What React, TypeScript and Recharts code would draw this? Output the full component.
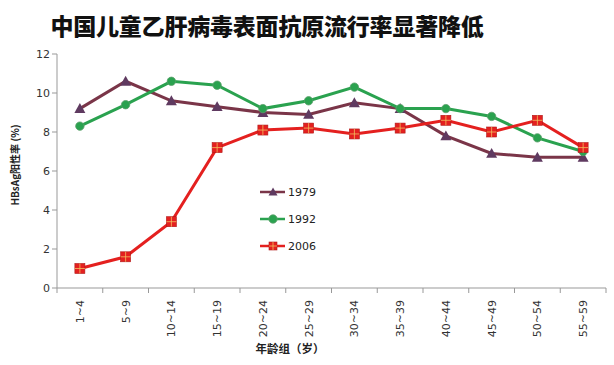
import React from 'react';
import { LineChart, Line, XAxis, YAxis } from 'recharts';

const ageGroups = ['1~4', '5~9', '10~14', '15~19', '20~24', '25~29', '30~34', '35~39', '40~44', '45~49', '50~54', '55~59'];
const rate1979 = [9.2, 10.6, 9.6, 9.3, 9.0, 8.9, 9.5, 9.2, 7.8, 6.9, 6.7, 6.7];
const rate1992 = [8.3, 9.4, 10.6, 10.4, 9.2, 9.6, 10.3, 9.2, 9.2, 8.8, 7.7, 7.0];
const rate2006 = [1.0, 1.6, 3.4, 7.2, 8.1, 8.2, 7.9, 8.2, 8.6, 8.0, 8.6, 7.2];
const yTicks = [0, 2, 4, 6, 8, 10, 12];

const data = ageGroups.map((g, i) => ({
  group: g,
  y1979: rate1979[i],
  y1992: rate1992[i],
  y2006: rate2006[i],
}));

const C1979 = '#7a3548';
const C1979M = '#5f3a60';
const C1992 = '#2aa24f';
const C2006 = '#e4201f';

const Triangle = ({ cx, cy, s = 5.5 }: any) => (
  <path d={`M${cx},${cy - s} L${cx + s},${cy + s * 0.8} L${cx - s},${cy + s * 0.8} Z`} fill={C1979M} />
);
const Circle = ({ cx, cy }: any) => <circle cx={cx} cy={cy} r={4.2} fill={C1992} stroke="#5a9e6a" strokeWidth={0.8} />;
const Square = ({ cx, cy, s = 5 }: any) => (
  <g>
    <rect x={cx - s} y={cy - s} width={s * 2} height={s * 2} fill={C2006} stroke="#b01818" strokeWidth={0.6} />
    <line x1={cx} y1={cy - s} x2={cx} y2={cy + s} stroke="#f2c060" strokeWidth={0.8} />
    <line x1={cx - s} y1={cy} x2={cx + s} y2={cy} stroke="#f2c060" strokeWidth={0.8} />
  </g>
);

const band = 549 / ageGroups.length;

const XTick = ({ x, y, payload, index }: any) => (
  <g>
    <line x1={x - band / 2} y1={y - 8} x2={x - band / 2} y2={y - 3} stroke="#999" />
    {index === ageGroups.length - 1 && (
      <line x1={x + band / 2} y1={y - 8} x2={x + band / 2} y2={y - 3} stroke="#999" />
    )}
    <text
      x={0}
      y={0}
      transform={`translate(${x + 4},${y + 4}) rotate(-90)`}
      textAnchor="end"
      fontSize={11}
      fill="#333"
      fontFamily="DejaVu Sans, sans-serif"
    >
      {payload.value}
    </text>
  </g>
);

const legendItems = [
  { name: '1979', color: C1979, Marker: Triangle },
  { name: '1992', color: C1992, Marker: Circle },
  { name: '2006', color: C2006, Marker: Square },
];

const LegendBox = () => (
  <svg width={80} height={80} style={{ position: 'absolute', left: 258, top: 180 }}>
    {legendItems.map((it, i) => {
      const cy = 12 + i * 27;
      const M = it.Marker;
      return (
        <g key={it.name}>
          <line x1={2} y1={cy} x2={27} y2={cy} stroke={it.color} strokeWidth={2.5} />
          <M cx={15} cy={cy} s={i === 0 ? 4.5 : 4} />
          <text x={30} y={cy + 4} fontSize={11} fill="#222" fontFamily="DejaVu Sans, sans-serif">
            {it.name}
          </text>
        </g>
      );
    })}
  </svg>
);

export default function App() {
  return (
    <div style={{ position: 'absolute', left: 0, top: 0, width: 614, height: 365, background: '#fff' }}>
      <div
        style={{
          position: 'absolute',
          left: 0,
          top: 9,
          width: 534,
          textAlign: 'center',
          fontFamily: '"Noto Sans CJK SC", sans-serif',
          fontWeight: 900,
          fontSize: 23,
          letterSpacing: -0.2,
          color: '#111',
          lineHeight: '32px',
        }}
      >
        中国儿童乙肝病毒表面抗原流行率显著降低
      </div>
      <div
        style={{
          position: 'absolute',
          left: 15 - 60,
          top: 165 - 8,
          width: 120,
          height: 16,
          transform: 'rotate(-90deg)',
          textAlign: 'center',
          fontFamily: '"Noto Sans CJK SC", sans-serif',
          fontWeight: 700,
          fontSize: 10,
          color: '#222',
          lineHeight: '16px',
        }}
      >
        HBsAg阳性率 (%)
      </div>
      <div
        style={{
          position: 'absolute',
          left: 230,
          top: 339,
          width: 120,
          textAlign: 'center',
          fontFamily: '"Noto Sans CJK SC", sans-serif',
          fontWeight: 700,
          fontSize: 11.5,
          color: '#222',
          lineHeight: '18px',
        }}
      >
        年龄组（岁）
      </div>
      <div style={{ position: 'absolute', left: 0, top: 0 }}>
        <LineChart width={614} height={365} data={data} margin={{ top: 54, right: 8, left: 0, bottom: 0 }}>
          <XAxis
            dataKey="group"
            height={77}
            stroke="#999"
            tickLine={false}
            interval={0}
            padding={{ left: band / 2, right: band / 2 }}
            tick={<XTick />}
          />
          <YAxis
            width={57}
            domain={[0, 12]}
            ticks={yTicks}
            stroke="#999"
            tickSize={5}
            tick={{ fontSize: 11, fill: '#333', fontFamily: 'DejaVu Sans, sans-serif' }}
          />
          <Line
            dataKey="y1979"
            name="1979"
            stroke={C1979}
            strokeWidth={3}
            dot={<Triangle />}
            activeDot={false}
            isAnimationActive={false}
          />
          <Line
            dataKey="y1992"
            name="1992"
            stroke={C1992}
            strokeWidth={3}
            dot={<Circle />}
            activeDot={false}
            isAnimationActive={false}
          />
          <Line
            dataKey="y2006"
            name="2006"
            stroke={C2006}
            strokeWidth={3}
            dot={<Square />}
            activeDot={false}
            isAnimationActive={false}
          />
        </LineChart>
      </div>
      <LegendBox />
    </div>
  );
}
